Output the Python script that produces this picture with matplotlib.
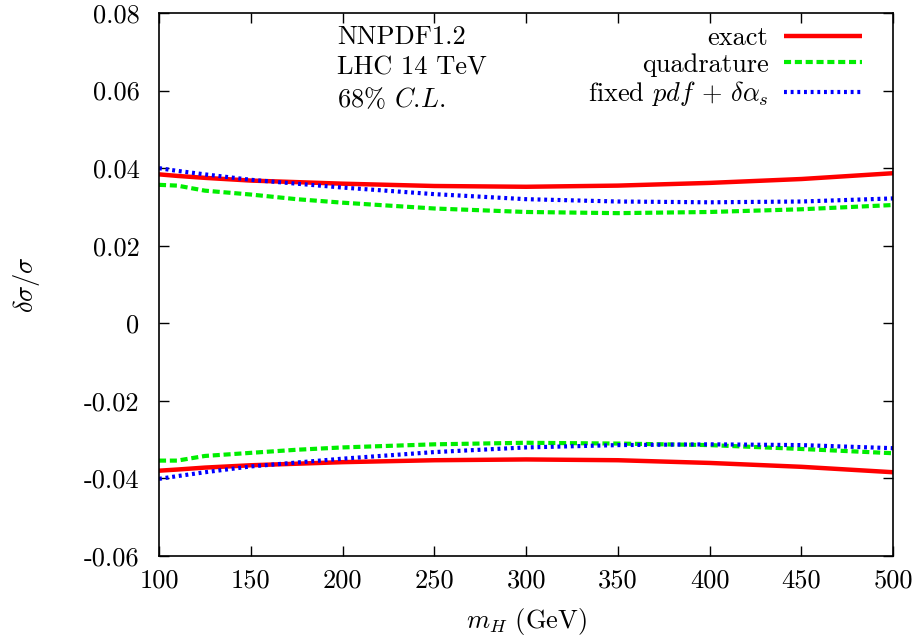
import numpy as np
import matplotlib
matplotlib.use('Agg')
from matplotlib import pyplot as plt

plt.rcParams['font.family'] = ['cmr10', 'DejaVu Serif']
plt.rcParams['mathtext.fontset'] = 'cm'
plt.rcParams['axes.formatter.use_mathtext'] = True

# m_H values (GeV)
mh = [100, 110, 125, 150, 175, 200, 250, 300, 350, 400, 450, 500]

exact_up = [0.0384, 0.0380, 0.0375, 0.0368, 0.0364, 0.0360, 0.0354, 0.0352, 0.0355, 0.0362, 0.0372, 0.0387]
exact_dn = [-0.0380, -0.0377, -0.0372, -0.0366, -0.0362, -0.0358, -0.0353, -0.0351, -0.0353, -0.0360, -0.0370, -0.0384]

quad_up = [0.0357, 0.0355, 0.0342, 0.0332, 0.0320, 0.0311, 0.0296, 0.0287, 0.0284, 0.0287, 0.0294, 0.0305]
quad_dn = [-0.0354, -0.0354, -0.0342, -0.0334, -0.0326, -0.0320, -0.0312, -0.0308, -0.0310, -0.0314, -0.0324, -0.0335]

fix_up = [0.0400, 0.0393, 0.0384, 0.0370, 0.0360, 0.0350, 0.0333, 0.0320, 0.0314, 0.0312, 0.0314, 0.0322]
fix_dn = [-0.0401, -0.0394, -0.0384, -0.0369, -0.0359, -0.0349, -0.0332, -0.0320, -0.0314, -0.0312, -0.0314, -0.0322]

xticks = [100, 150, 200, 250, 300, 350, 400, 450, 500]
yticks = [-0.06, -0.04, -0.02, 0, 0.02, 0.04, 0.06, 0.08]
ylabels = ['-0.06', '-0.04', '-0.02', '0', '0.02', '0.04', '0.06', '0.08']

fig = plt.figure(figsize=(9.19, 6.44), dpi=100)
ax = fig.add_axes([0.173, 0.1366, 0.799, 0.8432])

ax.plot(mh, exact_up, color='#ff0000', lw=3.2, solid_capstyle='butt', label='exact')
ax.plot(mh, exact_dn, color='#ff0000', lw=3.2, solid_capstyle='butt')
ax.plot(mh, quad_up, color='#00ee00', lw=3, dashes=(1.7, 0.9), label='quadrature')
ax.plot(mh, quad_dn, color='#00ee00', lw=3, dashes=(1.7, 0.9))
ax.plot(mh, fix_up, color='#0000ff', lw=3, dashes=(0.7, 0.9), label=r'fixed $pdf$ + $\delta\alpha_s$')
ax.plot(mh, fix_dn, color='#0000ff', lw=3, dashes=(0.7, 0.9))

ax.set_xlim(100, 500)
ax.set_ylim(-0.06, 0.08)
ax.set_xticks(xticks)
ax.set_xticklabels([str(t) for t in xticks])
ax.set_yticks(yticks)
ax.set_yticklabels(ylabels)
ax.tick_params(direction='in', top=True, right=True, length=7, width=1, labelsize=19)
ax.tick_params(axis='y', pad=14)
ax.tick_params(axis='x', pad=9)
for s in ax.spines.values():
    s.set_linewidth(1.2)

ax.set_xlabel(r'$m_H$ (GeV)', fontsize=19, labelpad=10)
ax.set_ylabel(r'$\delta\sigma/\sigma$', fontsize=19, labelpad=30)

ax.text(197, 0.0769, 'NNPDF1.2\nLHC 14 TeV\n68% $C$.$L$.', fontsize=19, va='top', ha='left',
        linespacing=1.36)

ax.legend(loc='upper right', bbox_to_anchor=(0.99, 1.019), frameon=False, markerfirst=False,
          fontsize=19, handlelength=2.95, labelspacing=0.1, handletextpad=0.6)

fig.savefig('out.png', dpi=100)
